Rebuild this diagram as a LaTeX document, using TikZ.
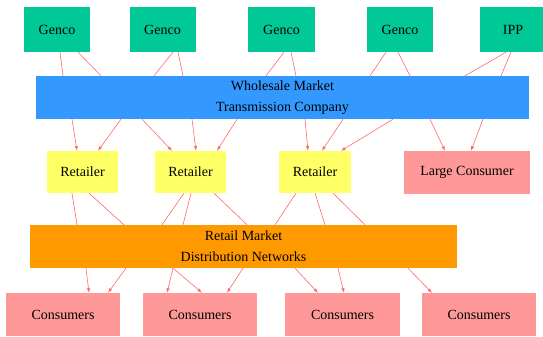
\documentclass[tikz,border=0pt]{standalone}
\usepackage{fontspec}
\setmainfont{Liberation Serif}
\usepackage{xcolor}
\usepackage{tikz}
\usetikzlibrary{arrows, positioning, calc}
\definecolor{gencogreen}{RGB}{0,200,150}
\definecolor{wholeblue}{RGB}{51,153,255}
\definecolor{retyellow}{RGB}{255,255,102}
\definecolor{conspink}{RGB}{255,153,153}
\definecolor{retorange}{RGB}{255,153,0}
\definecolor{edgered}{RGB}{255,105,105}
\tikzstyle{box} = [rectangle, inner sep=0pt, text centered, align=center, font=\fontsize{14}{21}\selectfont]
\tikzstyle{genco} = [box, minimum width=66pt, minimum height=45pt, fill=gencogreen]
\tikzstyle{market} = [box, minimum height=43pt]
\tikzstyle{retailer} = [box, minimum width=71pt, minimum height=42pt, fill=retyellow]
\tikzstyle{consumer} = [box, minimum width=114pt, minimum height=43pt, fill=conspink]
\tikzstyle{line} = [draw=edgered, line width=0.6pt]
\tikzstyle{arrow} = [line, ->, >=latex]

\begin{document}
\begin{tikzpicture}[x=1pt, y=-1pt]
    \useasboundingbox (0,0) rectangle (543,337);

    % generation
    \node (genco1) [genco] at (57,29.5) {Genco};
    \node (genco2) [genco] at (162.5,29.5) {Genco};
    \node (genco3) [genco, minimum width=67pt] at (281.5,29.5) {Genco};
    \node (genco4) [genco] at (400,29.5) {Genco};
    \node (ipp) [genco] at (513,29.5) {IPP};

    \node (wholesale) [market, minimum width=493pt, fill=wholeblue] at (282.5,97.5) {Wholesale Market\\Transmission Company};

    \node (ret1) [retailer] at (82.5,172) {Retailer};
    \node (ret2) [retailer] at (190.5,172) {Retailer};
    \node (ret3) [retailer, minimum width=72pt] at (315,172) {Retailer};
    \node (large) [consumer, minimum width=126pt] at (467,172.5) {Large Consumer};

    \node (retail) [market, minimum width=427pt, fill=retorange] at (243.5,246.5) {Retail Market\\Distribution Networks};

    \node (cons1) [consumer] at (63,314.5) {Consumers};
    \node (cons2) [consumer] at (200,314.5) {Consumers};
    \node (cons3) [consumer, minimum width=115pt] at (342.5,314.5) {Consumers};
    \node (cons4) [consumer] at (479,314.5) {Consumers};

    % gencos to wholesale market
    \draw [line] ([xshift=3pt]genco1.south) -- ([xshift=-219.5pt]wholesale.north);
    \draw [line] ([xshift=21pt]genco1.south) -- ([xshift=-181.5pt]wholesale.north);
    \draw [line] ([xshift=10.5pt]genco2.south) -- ([xshift=-128.5pt]wholesale.north);
    \draw [line] ([xshift=15.5pt]genco2.south) -- ([xshift=-99.5pt]wholesale.north);
    \draw [line] ([xshift=2.5pt]genco3.south) -- ([xshift=-16.5pt]wholesale.north);
    \draw [line] ([xshift=9.5pt]genco3.south) -- ([xshift=13.5pt]wholesale.north);
    \draw [line] ([xshift=-14pt]genco4.south) -- ([xshift=87.5pt]wholesale.north);
    \draw [line] ([xshift=-2pt]genco4.south) -- ([xshift=127.5pt]wholesale.north);
    \draw [line] ([xshift=-7pt]ipp.south) -- ([xshift=182.5pt]wholesale.north);
    \draw [line] ([xshift=-2pt]ipp.south) -- ([xshift=218.5pt]wholesale.north);

    % wholesale market to retailers
    \draw [arrow] ([xshift=-210.5pt]wholesale.south) -- ([xshift=-5.5pt]ret1.north);
    \draw [arrow] ([xshift=-161.5pt]wholesale.south) -- ([xshift=15.5pt]ret1.north);
    \draw [arrow] ([xshift=-140.5pt]wholesale.south) -- ([xshift=-18.5pt]ret2.north);
    \draw [arrow] ([xshift=-90.5pt]wholesale.south) -- ([xshift=5.5pt]ret2.north);
    \draw [arrow] ([xshift=-45.5pt]wholesale.south) -- ([xshift=26.5pt]ret2.north);
    \draw [arrow] ([xshift=22.5pt]wholesale.south) -- ([xshift=-7pt]ret3.north);
    \draw [arrow] ([xshift=60.5pt]wholesale.south) -- ([xshift=7pt]ret3.north);
    \draw [arrow] ([xshift=110.5pt]wholesale.south) -- ([xshift=26pt]ret3.north);
    \draw [arrow] ([xshift=147.5pt]wholesale.south) -- ([xshift=-22pt]large.north);
    \draw [arrow] ([xshift=200.5pt]wholesale.south) -- ([xshift=4pt]large.north);

    % retailers to retail market
    \draw [line] ([xshift=-10.5pt]ret1.south) -- ([xshift=-166.5pt]retail.north);
    \draw [line] ([xshift=6.5pt]ret1.south) -- ([xshift=-119.5pt]retail.north);
    \draw [line] ([xshift=-6.5pt]ret2.south) -- ([xshift=-81.5pt]retail.north);
    \draw [line] ([xshift=0.5pt]ret2.south) -- ([xshift=-60.5pt]retail.north);
    \draw [line] ([xshift=23.5pt]ret2.south) -- ([xshift=3.5pt]retail.north);
    \draw [line] ([xshift=-19pt]ret3.south) -- ([xshift=31.5pt]retail.north);
    \draw [line] ([xshift=0pt]ret3.south) -- ([xshift=81.5pt]retail.north);
    \draw [line] ([xshift=18pt]ret3.south) -- ([xshift=121.5pt]retail.north);

    % retail market to consumers
    \draw [arrow] ([xshift=-157.5pt]retail.south) -- ([xshift=26pt]cons1.north);
    \draw [arrow] ([xshift=-117.5pt]retail.south) -- ([xshift=45pt]cons1.north);
    \draw [arrow] ([xshift=-70.5pt]retail.south) -- ([xshift=-33pt]cons2.north);
    \draw [arrow] ([xshift=-70.5pt]retail.south) -- ([xshift=2pt]cons2.north);
    \draw [arrow] ([xshift=-0.5pt]retail.south) -- ([xshift=27pt]cons2.north);
    \draw [arrow] ([xshift=51.5pt]retail.south) -- ([xshift=-24.5pt]cons3.north);
    \draw [arrow] ([xshift=94.5pt]retail.south) -- ([xshift=1.5pt]cons3.north);
    \draw [arrow] ([xshift=164.5pt]retail.south) -- ([xshift=-47pt]cons4.north);
\end{tikzpicture}
\end{document}
